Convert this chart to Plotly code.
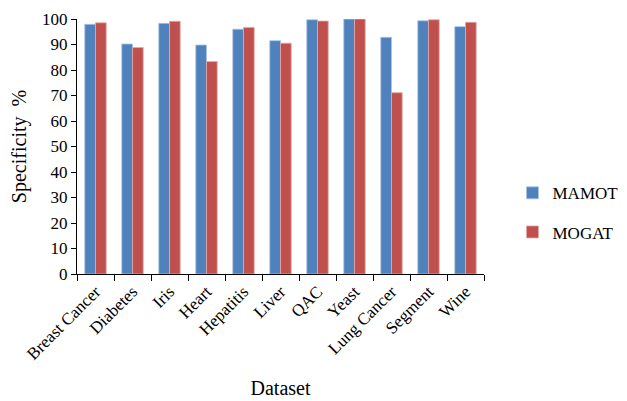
import plotly.graph_objects as go

categories = ["Breast Cancer", "Diabetes", "Iris", "Heart", "Hepatitis", "Liver",
              "QAC", "Yeast", "Lung Cancer", "Segment", "Wine"]
mamot = [97.9, 90.2, 98.3, 89.8, 96.0, 91.5, 99.7, 100.0, 92.8, 99.3, 97.0]
mogat = [98.5, 88.8, 99.1, 83.3, 96.7, 90.5, 99.2, 100.0, 71.1, 99.7, 98.7]
y_ticks = list(range(0, 101, 10))

font = "Liberation Serif, Times New Roman, serif"

fig = go.Figure()
fig.add_trace(go.Bar(x=categories, y=mamot, name="MAMOT", legendgroup="a",
                     marker=dict(color="#4F81BD", line=dict(color="#A9C4E6", width=0.8))))
fig.add_trace(go.Bar(x=categories, y=mogat, name="MOGAT", legendgroup="b",
                     marker=dict(color="#C0504D", line=dict(color="#E3A9A7", width=0.8))))

fig.update_layout(
    width=627, height=401,
    margin=dict(l=69, r=115, t=11, b=135),
    paper_bgcolor="white", plot_bgcolor="white",
    font=dict(family=font, size=17, color="black"),
    barmode="group", bargap=0.42, bargroupgap=0,
    legend=dict(x=1.07, xanchor="left", y=0.24, yanchor="middle",
                tracegroupgap=14, font=dict(size=17), itemwidth=30),
    xaxis=dict(showline=True, linecolor="black", linewidth=1, ticks="outside",
               tickson="boundaries", ticklen=6, tickcolor="black", tickangle=-45,
               title=dict(text="Dataset", standoff=18), showgrid=False,
               automargin=False),
    yaxis=dict(range=[0, 100], tickvals=y_ticks, showline=True, linecolor="black",
               linewidth=1, ticks="outside", ticklen=5, tickcolor="black",
               showgrid=False, zeroline=False, automargin=False,
               title=dict(text="Specificity  %", standoff=10)),
)
fig.write_html("out.html")
